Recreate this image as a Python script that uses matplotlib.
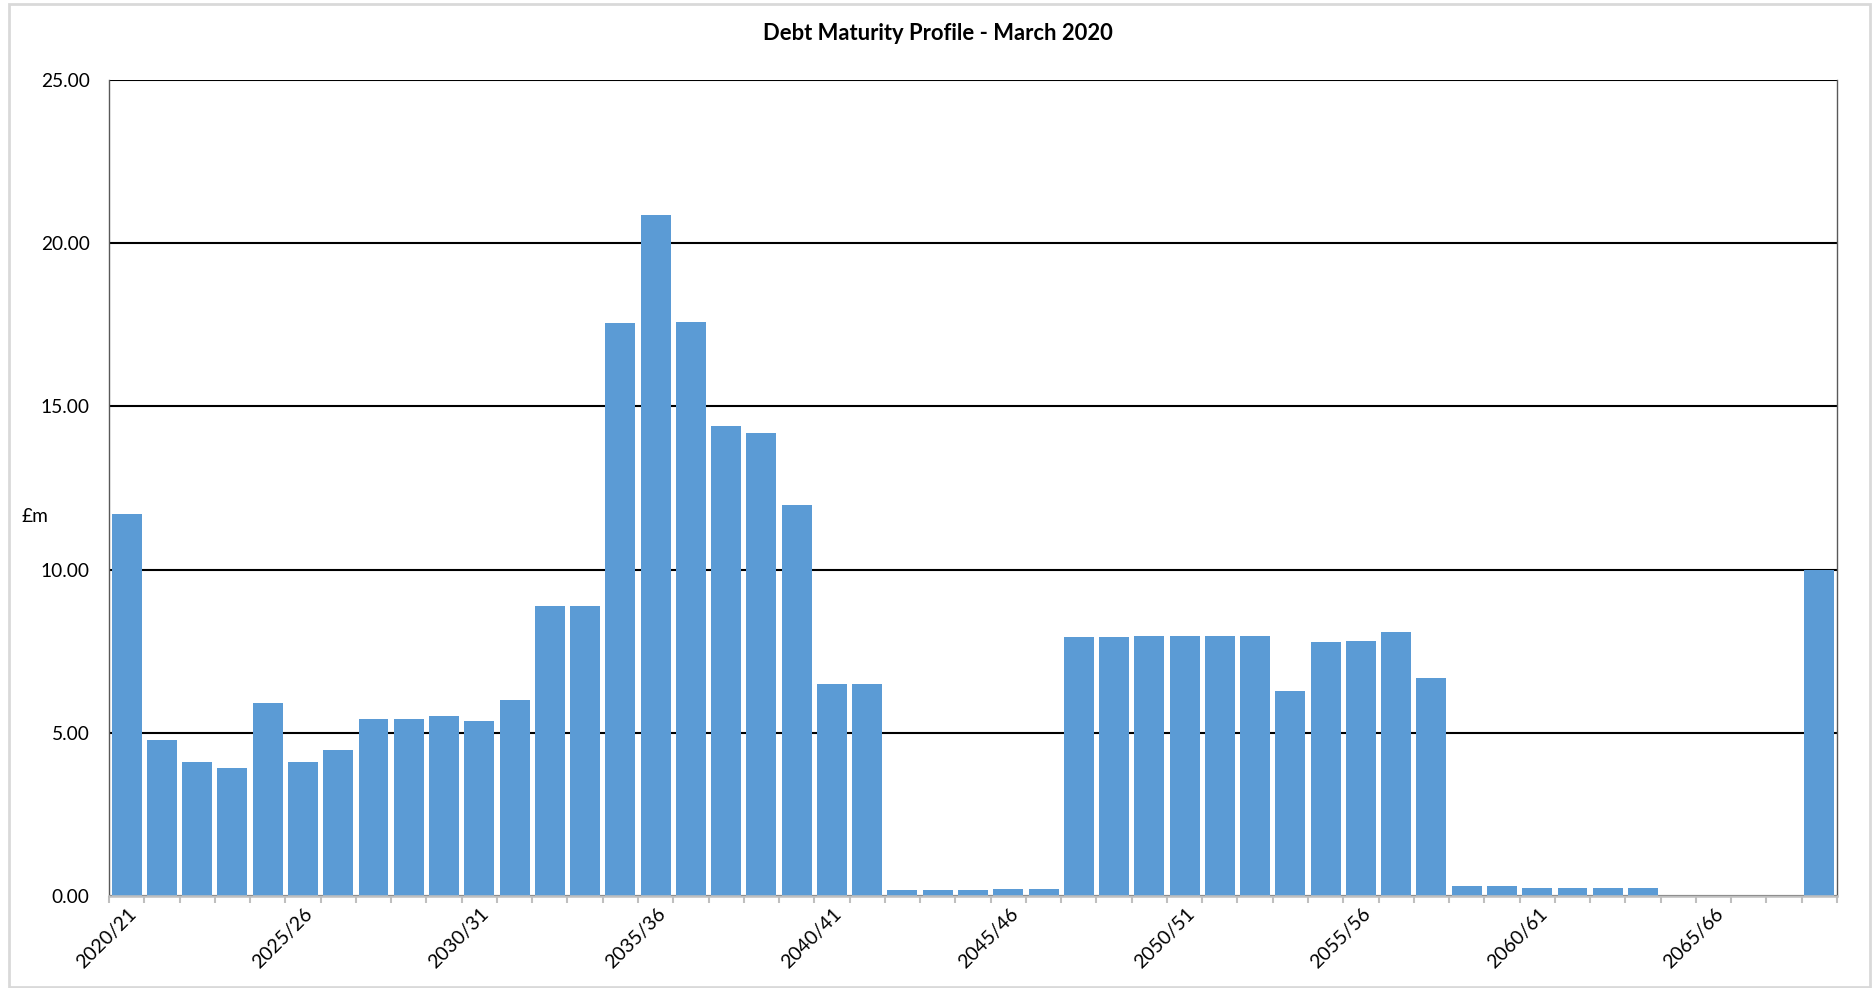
import matplotlib
matplotlib.use("Agg")
import matplotlib.pyplot as plt
import matplotlib.transforms as mtransforms
from matplotlib.patches import Rectangle
from matplotlib.ticker import FixedLocator, FuncFormatter

# ---- data ----
categories = [f"{y}/{(y + 1) % 100:02d}" for y in range(2020, 2069)]
values = [11.70, 4.79, 4.11, 3.92, 5.91, 4.11, 4.48, 5.43, 5.43, 5.51,
          5.36, 6.00, 8.90, 8.87, 17.54, 20.85, 17.60, 14.41, 14.19, 11.97,
          6.50, 6.50, 0.18, 0.18, 0.18, 0.22, 0.22, 7.95, 7.95, 7.98,
          7.98, 7.98, 7.98, 6.28, 7.79, 7.82, 8.10, 6.68, 0.31, 0.32,
          0.26, 0.26, 0.26, 0.26, 0.0, 0.0, 0.0, 0.0, 10.0]
label_every = 5
title = "Debt Maturity Profile - March 2020"
y_unit = "£m"
y_ticks = [0, 5, 10, 15, 20, 25]

plt.rcParams['font.family'] = ['Lato', 'DejaVu Sans']

W, H = 1872, 988
fig = plt.figure(figsize=(W / 100, H / 100), dpi=100)
fig.patch.set_facecolor("white")

# outer chart border
fig.add_artist(Rectangle((9 / W, 1 - 987 / H), (1870 - 9) / W, (987 - 4) / H,
                         transform=fig.transFigure, fill=False,
                         edgecolor="#d9d9d9", linewidth=2))

ax = fig.add_axes([109 / W, 1 - 896 / H, (1837 - 109) / W, (896 - 80) / H])

x = list(range(len(categories)))
ax.bar(x, values, width=0.85, color="#5B9BD5", zorder=3)

ax.set_xlim(-0.5, len(categories) - 0.5)
ax.set_ylim(0, 25)

ax.set_yticks(y_ticks)
ax.yaxis.set_major_formatter(FuncFormatter(lambda v, p: f"{v:.2f}"))
ax.tick_params(axis="y", length=0, pad=14, labelsize=13.8, colors="black")
ax.grid(axis="y", color="black", linewidth=1.5, zorder=1)
ax.grid(axis="x", visible=False)

major = [i for i in x if i % label_every == 0]
ax.set_xticks(major)
ax.set_xticklabels([categories[i] for i in major], rotation=45, ha="right",
                   va="center", rotation_mode="anchor", fontsize=14)
ax.tick_params(axis="x", which="major", length=0, pad=11)
shift = mtransforms.ScaledTranslation(7 / 100, 0, fig.dpi_scale_trans)
for lbl in ax.get_xticklabels():
    lbl.set_transform(lbl.get_transform() + shift)
ax.xaxis.set_minor_locator(FixedLocator([i - 0.5 for i in range(len(categories) + 1)]))
ax.tick_params(axis="x", which="minor", length=5, width=1.5, color="#bfbfbf")

for s in ["left", "right"]:
    ax.spines[s].set_color("#595959")
    ax.spines[s].set_linewidth(1.0)
ax.spines["top"].set_visible(False)
ax.spines["bottom"].set_color("#bfbfbf")
ax.spines["bottom"].set_linewidth(1.8)
ax.spines["bottom"].set_zorder(4)

fig.text(938 / W, 1 - 34 / H, title, ha="center", va="center",
         fontsize=15.8, fontweight="bold")
fig.text(22 / W, 1 - 517 / H, y_unit, ha="left", va="center", fontsize=13.8)

fig.savefig("out.png", dpi=100)
